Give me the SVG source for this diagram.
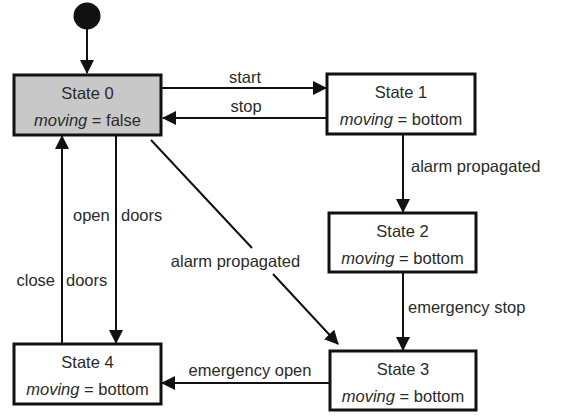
<svg xmlns="http://www.w3.org/2000/svg" width="563" height="416" viewBox="0 0 563 416">
  <style>
    .box { fill: #ffffff; stroke: #111111; stroke-width: 3; }
    .box.initial { fill: #c8c8c8; }
    text { font-family: "Liberation Sans", Arial, sans-serif; font-size: 16.5px; fill: #2a2a2a; }
    .title, .var { text-anchor: middle; }
    .it { font-style: italic; }
    .edge { fill: none; stroke: #111111; stroke-width: 2; marker-end: url(#arrow); }
  </style>
  <defs>
    <marker id="arrow" viewBox="0 0 14 14" refX="13" refY="7" markerWidth="14" markerHeight="14" markerUnits="userSpaceOnUse" orient="auto">
      <path d="M0,0 L14,7 L0,14 Z" fill="#111111"/>
    </marker>
  </defs>

  <rect width="563" height="416" fill="#ffffff"/>

  <!-- initial pseudo-state -->
  <g id="start">
    <circle cx="87" cy="16" r="13.5" fill="#111111"/>
  </g>

  <g id="state0">
    <rect class="box initial" x="14" y="75" width="147" height="60"/>
    <text class="title" x="87.5" y="99">State 0</text>
    <text class="var" x="87.5" y="126"><tspan class="it">moving</tspan> = false</text>
  </g>

  <g id="state1">
    <rect class="box" x="327" y="74" width="148" height="60"/>
    <text class="title" x="401" y="98">State 1</text>
    <text class="var" x="401" y="125"><tspan class="it">moving</tspan> = bottom</text>
  </g>

  <g id="state2">
    <rect class="box" x="329" y="213" width="147" height="59"/>
    <text class="title" x="402.5" y="237">State 2</text>
    <text class="var" x="402.5" y="264"><tspan class="it">moving</tspan> = bottom</text>
  </g>

  <g id="state3">
    <rect class="box" x="330" y="351" width="146" height="59"/>
    <text class="title" x="403" y="375">State 3</text>
    <text class="var" x="403" y="402"><tspan class="it">moving</tspan> = bottom</text>
  </g>

  <g id="state4">
    <rect class="box" x="14" y="344" width="147" height="60"/>
    <text class="title" x="87.5" y="368">State 4</text>
    <text class="var" x="87.5" y="395"><tspan class="it">moving</tspan> = bottom</text>
  </g>

  <g id="connectors">
    <path class="edge" d="M87 29 L87 73"/>
    <path class="edge" d="M162 88 L326 88"/>
    <path class="edge" d="M327 118 L163 118"/>
    <path class="edge" d="M403 135 L403 212"/>
    <path class="edge" d="M403 273 L403 350"/>
    <path class="edge" d="M330 383 L162 383"/>
    <path class="edge" d="M116 136 L116 343"/>
    <path class="edge" d="M62 344 L62 136"/>
    <path class="edge" d="M151 140 L252 248 M273 274 L338 344"/>

    <text x="245" y="83" text-anchor="middle">start</text>
    <text x="246" y="112" text-anchor="middle">stop</text>
    <text x="411" y="172">alarm propagated</text>
    <text x="408" y="313">emergency stop</text>
    <text x="250" y="376" text-anchor="middle">emergency open</text>
    <text x="235.5" y="267" text-anchor="middle">alarm propagated</text>
    <text x="73" y="221">open <tspan x="121">doors</tspan></text>
    <text x="16.5" y="286">close <tspan x="66">doors</tspan></text>
  </g>
</svg>
